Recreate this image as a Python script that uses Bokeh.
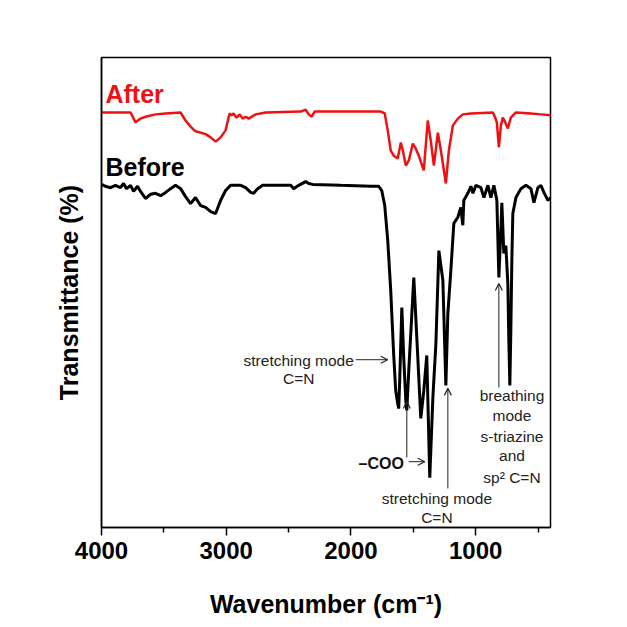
from bokeh.plotting import figure
from bokeh.models import Range1d, FixedTicker, Arrow, OpenHead
from bokeh.core.properties import value
from bokeh.embed import file_html
from bokeh.resources import INLINE

FONT = "Liberation Sans"

# Spectra (wavenumber in cm^-1, transmittance in arbitrary %)
after_wn = [4000, 3767, 3727, 3687, 3647, 3567, 3486, 3366, 3326, 3286, 3246, 3165, 3125, 3085,
            3045, 3005, 2973, 2957, 2941, 2917, 2892, 2868, 2844, 2820, 2764, 2684, 2403, 2363,
            2339, 2315, 2291, 1761, 1729, 1705, 1681, 1657, 1625, 1600, 1584, 1560, 1536, 1504,
            1480, 1456, 1416, 1384, 1360, 1335, 1303, 1279, 1255, 1239, 1215, 1183, 1143, 1103,
            1038, 862, 846, 830, 814, 798, 782, 766, 742, 718, 677, 557, 477, 396]
after_t = [88.3, 88.3, 86.2, 87.0, 87.4, 87.9, 88.1, 88.3, 86.6, 85.3, 84.3, 83.7, 83.0, 82.1,
           83.0, 84.5, 88.1, 87.7, 88.1, 87.2, 87.9, 87.0, 87.4, 87.0, 87.9, 88.3, 88.5, 88.9,
           87.9, 87.4, 88.5, 88.5, 88.1, 84.5, 80.2, 79.1, 78.5, 81.9, 80.2, 77.0, 78.1, 81.7,
           80.6, 79.1, 76.0, 86.6, 82.3, 77.0, 84.0, 80.2, 76.0, 73.2, 80.2, 85.5, 87.0, 87.9,
           88.1, 88.3, 87.4, 86.2, 80.9, 85.5, 87.2, 86.4, 84.9, 87.2, 88.3, 88.1, 87.9, 87.7]

before_wn = [4000, 3968, 3928, 3888, 3848, 3823, 3799, 3767, 3743, 3711, 3687, 3647, 3607, 3567,
             3526, 3486, 3446, 3406, 3366, 3326, 3286, 3246, 3206, 3165, 3125, 3085, 3045, 3005,
             2965, 2884, 2844, 2804, 2780, 2748, 2708, 2483, 2459, 2419, 2363, 2339, 2307, 2082,
             1841, 1777, 1753, 1729, 1705, 1681, 1657, 1641, 1625, 1617, 1609, 1592, 1576, 1560,
             1552, 1536, 1496, 1464, 1440, 1416, 1392, 1368, 1343, 1319, 1295, 1263, 1239, 1223,
             1199, 1175, 1143, 1119, 1103, 1095, 1063, 1038, 1022, 998, 958, 934, 902, 878, 854,
             830, 814, 798, 790, 774, 758, 742, 734, 726, 718, 710, 702, 677, 637, 597, 557, 533,
             501, 477, 453, 421, 396]
before_t = [73.0, 72.6, 72.3, 72.8, 72.3, 73.2, 72.1, 72.8, 71.5, 72.6, 71.5, 70.0, 70.9, 71.1,
            70.6, 71.3, 72.1, 72.8, 72.1, 70.4, 68.9, 70.2, 68.5, 68.1, 67.2, 66.8, 69.6, 71.7,
            72.8, 72.8, 72.3, 71.3, 71.1, 72.1, 72.8, 72.8, 72.1, 72.8, 73.6, 73.2, 73.0, 72.8,
            72.6, 72.6, 71.7, 68.5, 61.1, 50.4, 36.6, 29.1, 26.4, 25.3, 31.3, 46.8, 35.7, 27.0,
            24.9, 33.6, 53.2, 36.2, 23.2, 29.1, 36.6, 10.6, 27.7, 39.1, 58.9, 52.6, 30.2, 45.5,
            54.7, 64.7, 66.0, 68.1, 64.3, 69.6, 71.1, 72.6, 71.1, 72.8, 72.3, 70.2, 72.8, 70.2, 72.8,
            69.6, 53.2, 63.2, 69.1, 58.3, 60.0, 51.9, 39.8, 30.2, 41.9, 56.8, 66.8, 70.2, 72.1, 72.8,
            72.1, 69.1, 72.3, 72.8, 71.3, 69.6, 70.2]

major_ticks = [4000, 3000, 2000, 1000]
minor_ticks = [3500, 2500, 1500, 500]

p = figure(width=627, height=627, output_backend="svg", toolbar_location=None,
           x_range=Range1d(4000, 400), y_range=Range1d(0, 100),
           min_border_left=101, min_border_right=77, min_border_top=57, min_border_bottom=100)
p.grid.visible = False
p.outline_line_color = "black"
p.outline_line_width = 1.5
p.background_fill_color = "white"
p.border_fill_color = "white"

p.xaxis.ticker = FixedTicker(ticks=major_ticks, minor_ticks=minor_ticks)
p.xaxis.axis_label = "Wavenumber (cm\u207b\u00b9)"
p.xaxis.axis_label_text_font = FONT
p.xaxis.axis_label_text_font_style = "bold"
p.xaxis.axis_label_text_font_size = "25px"
p.xaxis.axis_label_text_color = "black"
p.xaxis.axis_label_standoff = 28
p.xaxis.major_label_text_font = FONT
p.xaxis.major_label_text_font_style = "bold"
p.xaxis.major_label_text_font_size = "24px"
p.xaxis.major_label_text_color = "black"
p.xaxis.major_label_standoff = 6
p.xaxis.major_tick_out = 8
p.xaxis.major_tick_in = 0
p.xaxis.minor_tick_out = 5
p.xaxis.minor_tick_in = 0
p.xaxis.axis_line_width = 1.5
p.xaxis.major_tick_line_width = 1.5
p.xaxis.minor_tick_line_width = 1.5

p.yaxis.ticker = FixedTicker(ticks=[])
p.yaxis.axis_label = "Transmittance (%)"
p.yaxis.axis_label_text_font = FONT
p.yaxis.axis_label_text_font_style = "bold"
p.yaxis.axis_label_text_font_size = "25px"
p.yaxis.axis_label_text_color = "black"
p.yaxis.axis_label_standoff = 19
p.yaxis.major_tick_out = 0
p.yaxis.minor_tick_out = 0
p.yaxis.axis_line_width = 1.5

p.line(after_wn, after_t, line_color="#ee1111", line_width=2.5)
p.line(before_wn, before_t, line_color="black", line_width=3)

p.text(x=[3968], y=[92.3], text=["After"], text_color="#ee1111", text_font=value(FONT),
       text_font_style="bold", text_font_size="25px", text_baseline="middle", text_align="left")
p.text(x=[3968], y=[76.8], text=["Before"], text_color="black", text_font=value(FONT),
       text_font_style="bold", text_font_size="25px", text_baseline="middle", text_align="left")

ann_x = [2419, 2419, 1311, 1311, 709, 709, 709, 709, 709]
ann_y = [35.5, 31.7, 6.2, 2.1, 28.1, 23.8, 19.4, 15.3, 10.6]
ann_text = ["stretching mode", "C=N", "stretching mode", "C=N", "breathing", "mode",
            "s-triazine", "and", "sp\u00b2 C=N"]
p.text(x=ann_x, y=ann_y, text=ann_text, text_color="#222222", text_font=value(FONT),
       text_font_size="15.5px", text_baseline="middle", text_align="center")
p.text(x=[1576], y=[13.6], text=["\u2013COO"], text_color="#111111", text_font=value(FONT),
       text_font_style="bold", text_font_size="16px", text_baseline="middle", text_align="right")

arrows = [(1961, 35.7, 1705, 35.7), (1536, 14.0, 1408, 14.0), (1552, 14.9, 1552, 26.8),
          (1223, 8.3, 1223, 29.6), (814, 29.8, 814, 51.9)]
for x0, y0, x1, y1 in arrows:
    p.add_layout(Arrow(end=OpenHead(size=7, line_width=1.2, line_color="#222222"),
                       x_start=x0, y_start=y0, x_end=x1, y_end=y1,
                       line_width=1, line_color="#222222"))

open("out.html", "w").write(file_html(p, INLINE))
